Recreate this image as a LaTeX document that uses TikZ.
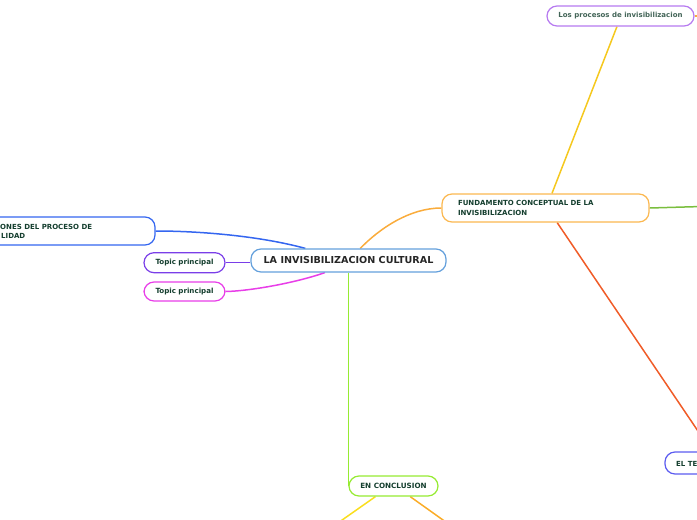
\documentclass[tikz,border=0pt]{standalone}
\usepackage{fontspec}
\setmainfont{DejaVu Sans}
\usetikzlibrary{calc,backgrounds}
\definecolor{txt}{RGB}{20,62,46}
\definecolor{cblue}{RGB}{100,160,220}
\definecolor{corange}{RGB}{250,172,60}
\definecolor{forange}{RGB}{251,184,80}
\definecolor{cyellow}{RGB}{245,200,30}
\definecolor{ppurple}{RGB}{182,122,240}
\definecolor{cgreen}{RGB}{122,190,62}
\definecolor{cred}{RGB}{240,92,40}
\definecolor{lblue}{RGB}{52,102,240}
\definecolor{tpurple}{RGB}{122,62,232}
\definecolor{cmag}{RGB}{232,62,232}
\definecolor{lgreen}{RGB}{150,235,50}
\definecolor{eblue}{RGB}{92,92,240}
\definecolor{eyellow}{RGB}{250,222,30}
\definecolor{eorange}{RGB}{250,172,40}
\begin{document}
\begin{tikzpicture}[x=1pt,y=-1pt,
  box/.style={draw,line width=1.2pt,rounded corners=10pt,fill=white,inner sep=0pt,font=\bfseries\fontsize{7.1}{8}\selectfont,text=txt},
  link/.style={line width=1.5pt},
  lab/.style={font=\bfseries\fontsize{7.0}{9.4}\selectfont,text=txt,inner sep=0pt,align=left}]
\useasboundingbox (0,0) rectangle (697,520);
\clip (0,0) rectangle (697,520);
% nodes
\node[box,draw=cblue,minimum width=195pt,minimum height=23pt,font=\bfseries\fontsize{9.6}{11}\selectfont,text={black!85}] (c) at (348.5,260.5) {LA INVISIBILIZACION CULTURAL};
\node[box,draw=forange,minimum width=207pt,minimum height=28pt,text width=175pt,inner xsep=16pt,align=left,font=\bfseries\fontsize{7.0}{9.8}\selectfont] (f) at (545.5,208) {FUNDAMENTO CONCEPTUAL DE LA\\INVISIBILIZACION};
\node[box,draw=ppurple,minimum width=147pt,minimum height=20pt,font=\bfseries\fontsize{7.0}{8}\selectfont,text=txt!80!white] (p) at (620.5,16) {Los procesos de invisibilizacion};
\node[box,draw=lblue,minimum width=225pt,minimum height=28pt] (lb) at (42.5,231) {};
\node[lab,anchor=west] (lbt) at (0,231.5) {ONES DEL PROCESO DE\\\hspace*{1pt}LIDAD};
\node[box,draw=tpurple,minimum width=81pt,minimum height=20pt] (t1) at (184.5,262.7) {Topic principal};
\node[box,draw=cmag,minimum width=81pt,minimum height=19pt] (t2) at (184.5,291.5) {Topic principal};
\node[box,draw=lgreen,minimum width=89pt,minimum height=20pt,font=\bfseries\fontsize{7.2}{8}\selectfont] (e) at (393.5,486) {EN CONCLUSION};
\node[box,draw=eblue,minimum width=80pt,minimum height=22pt] (el) at (705,463) {};
\node[lab,anchor=west] (elt) at (676,464) {EL TE};
% free ends
\coordinate (prEnd) at (702,16);
\coordinate (fgEnd) at (702,206.5);
\coordinate (frEnd) at (702,437);
\coordinate (eyEnd) at (335,525);
\coordinate (eoEnd) at (450,525);
% edges
\begin{pgfonlayer}{background}
\draw[link,corange] ($(c.north west)!0.56!(c.north east)$) .. controls (380,228) and (410,208) .. (f.west);
\draw[link,lblue] ($(c.north west)!0.28!(c.north east)$) .. controls (260,236) and (200,231) .. (lb.east);
\draw[link,tpurple] (t1.east) -- (t1.east -| c.west);
\draw[link,cmag] ($(c.south west)!0.38!(c.south east)$) .. controls (295,283) and (250,291) .. (t2.east);
\draw[link,lgreen] (c.south) -- (c.south |- e.west);
\draw[link,cyellow] ($(f.north west)!0.531!(f.north east)$) -- ($(p.south west)!0.476!(p.south east)$);
\draw[link,corange] (p.east) -- (prEnd);
\draw[link,cgreen] (f.east) -- (fgEnd);
\draw[link,cred] ($(f.south west)!0.556!(f.south east)$) -- (frEnd);
\draw[link,eyellow] ($(e.south west)!0.30!(e.south east)$) -- (eyEnd);
\draw[link,eorange] ($(e.south west)!0.685!(e.south east)$) -- (eoEnd);
\end{pgfonlayer}
\end{tikzpicture}
\end{document}
